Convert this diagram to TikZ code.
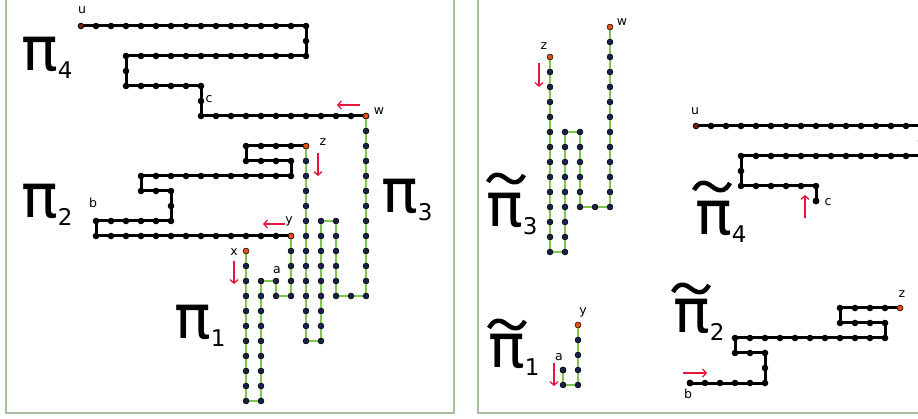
\documentclass[tikz,border=0pt]{standalone}
\usepackage{fontspec}
\setmainfont{DejaVu Sans}
\usetikzlibrary{arrows.meta,decorations.markings}

\definecolor{framegreen}{RGB}{168,190,160}
\definecolor{pathgreen}{RGB}{125,200,75}
\definecolor{dotnavy}{RGB}{28,30,80}
\definecolor{endorange}{RGB}{232,80,20}
\definecolor{startred}{RGB}{110,30,20}
\definecolor{arrowred}{RGB}{232,20,60}

\newcommand{\pilab}[1]{{\fontsize{61}{61}\selectfont π}\raisebox{-8pt}{\fontsize{23}{23}\selectfont #1}}

\tikzset{
  panel/.style={draw=framegreen, line width=1.5pt},
  blackpath/.style={draw=black, line width=3pt, postaction={decorate, decoration={markings,
      mark=between positions 0 and 1 step 15pt with {\fill[black] (0,0) circle (3.3pt);}}}},
  greenpath/.style={draw=pathgreen, line width=2pt, postaction={decorate, decoration={markings,
      mark=between positions 0 and 1 step 15pt with {\filldraw[fill=dotnavy, draw=black, line width=0.6pt] (0,0) circle (2.9pt);}}}},
  enddot/.style={circle, fill=endorange, draw=endorange!60!black, line width=0.4pt, inner sep=0pt, minimum size=5pt},
  startdot/.style={circle, fill=startred, inner sep=0pt, minimum size=4.6pt},
  blackdot/.style={circle, fill=black, inner sep=0pt, minimum size=6.6pt},
  navydot/.style={circle, fill=dotnavy, draw=black, line width=0.6pt, inner sep=0pt, minimum size=5.8pt},
  lbl/.style={font=\fontsize{12.5}{12.5}\selectfont, inner sep=0pt, anchor=base},
  pilbl/.style={inner sep=0pt, anchor=base west},
  dirarrow/.style={draw=arrowred, line width=1.3pt, -{Straight Barb[length=3.5pt,width=8pt]}},
  tildemark/.pic={
    \draw[line width=4.5pt] (1,9) .. controls (6,0) and (12,0) .. (19,5.5) .. controls (26,11) and (32,11) .. (37,2);
  }
}

\begin{document}
\begin{tikzpicture}[x=1pt, y=-1pt]
  \useasboundingbox (0,0) rectangle (918,419);
  \clip (0,0) rectangle (918,419);
  % panels
  \draw[panel] (6,-5) rectangle (454,413);
  \draw[panel] (478,-5) rectangle (930,413);

  % left panel: pi_4, pi_3, pi_2, pi_1
  \begin{scope}[shift={(81,26)}, x=15pt, y=-15pt]
    \coordinate (lu) at (0,0);
    \coordinate (lc) at (8,5);
    \coordinate (lw) at (19,6);
    \coordinate (lz) at (15,8);
    \coordinate (lb) at (1,13);
    \coordinate (ly) at (14,14);
    \coordinate (la) at (13,17);
    \coordinate (lx) at (11,15);
    \draw[blackpath] (lu) -- (15,0) -- (15,2) -- (3,2) -- (3,4) -- (8,4) -- (8,6) -- (lw);
    \draw[blackpath] (lz) -- (11,8) -- (11,9) -- (14,9) -- (14,10) -- (4,10) -- (4,11) -- (6,11) -- (6,13) -- (lb) -- (1,14) -- (ly);
    \draw[greenpath] (lw) -- (19,18) -- (17,18) -- (17,13) -- (16,13) -- (16,21) -- (15,21) -- (lz);
    \draw[greenpath] (ly) -- (14,18) -- (13,18) -- (la) -- (12,17) -- (12,25) -- (11,25) -- (lx);
  \end{scope}
  \node[startdot] (lu-dot) at (lu) {};
  \node[enddot] (lw-dot) at (lw) {};
  \node[enddot] (lz-dot) at (lz) {};
  \node[enddot] (ly-dot) at (ly) {};
  \node[enddot] (lx-dot) at (lx) {};

  \node[lbl] (lu-lab) at (82,13.5) {u};
  \node[lbl] (lc-lab) at (209,103) {c};
  \node[lbl] (lw-lab) at (379,115) {w};
  \node[lbl] (lz-lab) at (323,145.5) {z};
  \node[lbl] (lb-lab) at (93,208) {b};
  \node[lbl] (ly-lab) at (289,224) {y};
  \node[lbl] (lx-lab) at (234,256) {x};
  \node[lbl] (la-lab) at (277,274) {a};

  \node[pilbl] (pi4) at (21,71) {\pilab{4}};
  \node[pilbl] (pi2) at (21,218) {\pilab{2}};
  \node[pilbl] (pi3) at (381,213) {\pilab{3}};
  \node[pilbl] (pi1) at (174,339) {\pilab{1}};

  \draw[dirarrow] (360,105) -- (337,105);
  \draw[dirarrow] (318,153) -- (318,176);
  \draw[dirarrow] (285,224) -- (263,224);
  \draw[dirarrow] (234,261) -- (234,284);

  % right panel: the cut pieces
  \begin{scope}[shift={(325,-63)}, x=15pt, y=-15pt]
    \coordinate (rw) at (19,6);
    \coordinate (rz) at (15,8);
    \draw[greenpath] (rw) -- (19,18) -- (17,18) -- (17,13) -- (16,13) -- (16,21) -- (15,21) -- (rz);
  \end{scope}
  \begin{scope}[shift={(696,126)}, x=15pt, y=-15pt]
    \coordinate (ru) at (0,0);
    \coordinate (rc) at (8,5);
    \draw[blackpath] (ru) -- (15,0) -- (15,2) -- (3,2) -- (3,4) -- (8,4) -- (rc);
  \end{scope}
  \begin{scope}[shift={(675,188)}, x=15pt, y=-15pt]
    \coordinate (rz2) at (15,8);
    \coordinate (rb) at (1,13);
    \draw[blackpath] (rz2) -- (11,8) -- (11,9) -- (14,9) -- (14,10) -- (4,10) -- (4,11) -- (6,11) -- (6,13) -- (rb);
  \end{scope}
  \begin{scope}[shift={(368,115)}, x=15pt, y=-15pt]
    \coordinate (ry) at (14,14);
    \coordinate (ra) at (13,17);
    \draw[greenpath] (ry) -- (14,18) -- (13,18) -- (ra);
  \end{scope}
  \node[enddot] (rw-dot) at (rw) {};
  \node[enddot] (rz-dot) at (rz) {};
  \node[startdot] (ru-dot) at (ru) {};
  \node[blackdot] (rc-dot) at (rc) {};
  \node[enddot] (rz2-dot) at (rz2) {};
  \node[blackdot] (rb-dot) at (rb) {};
  \node[enddot] (ry-dot) at (ry) {};
  \node[navydot] (ra-dot) at (ra) {};

  \node[lbl] (rw-lab) at (622,26) {w};
  \node[lbl] (rz-lab) at (544,50) {z};
  \node[lbl] (ru-lab) at (695,115) {u};
  \node[lbl] (rc-lab) at (828,206) {c};
  \node[lbl] (ry-lab) at (583,315) {y};
  \node[lbl] (ra-lab) at (559,360) {a};
  \node[lbl] (rz2-lab) at (902,298) {z};
  \node[lbl] (rb-lab) at (688,399) {b};

  \node[pilbl] (pt3) at (486,227) {\pilab{3}};
  \node[pilbl] (pt4) at (695,235) {\pilab{4}};
  \node[pilbl] (pt1) at (488,368) {\pilab{1}};
  \node[pilbl] (pt2) at (673,333) {\pilab{2}};
  \pic at (487,173) {tildemark};
  \pic at (693,181) {tildemark};
  \pic at (488,319) {tildemark};
  \pic at (672,283) {tildemark};

  \draw[dirarrow] (539,63) -- (539,87);
  \draw[dirarrow] (805,218) -- (805,195);
  \draw[dirarrow] (683,373) -- (707,373);
  \draw[dirarrow] (554,363) -- (554,386);
\end{tikzpicture}
\end{document}
